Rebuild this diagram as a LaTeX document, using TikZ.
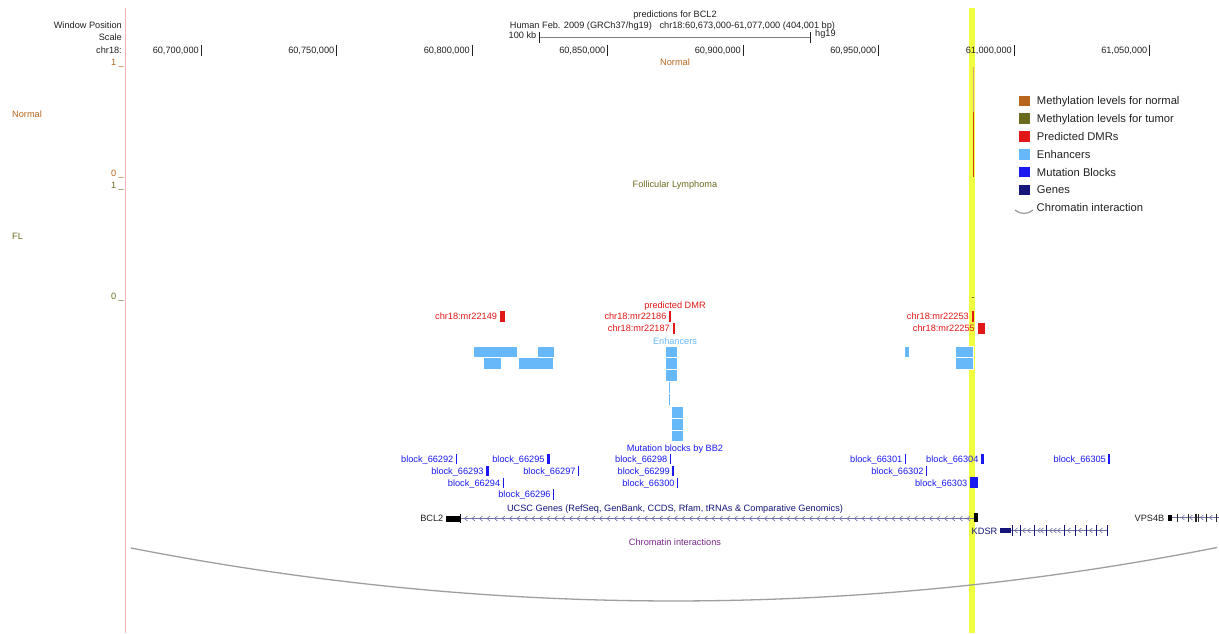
\documentclass[tikz,border=0pt]{standalone}
\usepackage{fontspec}
\setmainfont{Liberation Sans}
\usetikzlibrary{positioning}
\usepackage{xcolor}
\definecolor{normalc}{HTML}{B8651E}
\definecolor{tumorc}{HTML}{6B6B1E}
\definecolor{dmrc}{HTML}{E01818}
\definecolor{enhc}{HTML}{66B8F8}
\definecolor{blockc}{HTML}{1A1AF0}
\definecolor{genec}{HTML}{15157A}
\definecolor{intronc}{HTML}{7070A8}
\definecolor{chromc}{HTML}{7A2A88}
\definecolor{hilite}{HTML}{F0FF40}
\definecolor{axisc}{HTML}{F0B4B4}
\definecolor{inkc}{HTML}{222222}

\begin{document}
\begin{tikzpicture}[
  x=1pt, y=-1pt,
  lab/.style={font=\fontsize{9.2}{11}\selectfont, inner sep=0pt,
              text height=6.6pt, text depth=0pt, text=inkc},
  leglab/.style={lab, font=\fontsize{11.2}{13}\selectfont, text height=8pt},
  legsq/.style={inner sep=0pt, minimum size=10.5pt},
  dmrbar/.style={fill=dmrc, inner sep=0pt, minimum height=11pt},
  dmrlab/.style={lab, text=dmrc},
  blockbar/.style={fill=blockc, inner sep=0pt, minimum height=10.5pt, minimum width=1.5pt},
  blocklab/.style={lab, text=blockc},
  enh/.style={fill=enhc, draw=white, line width=0.5pt}
]
  % canvas, highlight band and left axis
  \fill[white] (0,0) rectangle (1219,633);
  \useasboundingbox (0,0) rectangle (1219,633);
  \fill[hilite] (968.5,8) rectangle (974.5,633);
  \draw[axisc, line width=1pt] (125,8) -- (125,633);

  % header
  \node[lab, anchor=east] (winpos) at (122,25) {Window Position};
  \node[lab, anchor=east] (scalelab) at (122,37) {Scale};
  \node[lab, anchor=east] (chrom) at (122,50) {chr18:};
  \node[lab] (title) at (675,14) {predictions for BCL2};
  \node[lab] (assembly) at (672.5,25) {Human Feb. 2009 (GRCh37/hg19)\ \ \ chr18:60,673,000-61,077,000 (404,001 bp)};

  \draw[gray, line width=1.5pt] (539,37.5) -- (810,37.5);
  \draw[inkc, line width=0.7pt] (539,32) -- (539,43);
  \draw[inkc, line width=0.7pt] (810,32) -- (810,43);
  \node[lab, anchor=east] (kb) at (536.5,35) {100 kb};
  \node[lab, anchor=west] (hg) at (815,33) {hg19};

  \foreach \tl [count=\i] in {{60,700,000},{60,750,000},{60,800,000},{60,850,000},
                              {60,900,000},{60,950,000},{61,000,000},{61,050,000}} {
    \draw[inkc, line width=0.8pt] ({201+135.5*(\i-1)},44.5) -- ({201+135.5*(\i-1)},56);
    \node[lab, anchor=east] (axis\i) at ({199+135.5*(\i-1)},50.5) {\tl};
  }

  % methylation tracks
  \node[lab, text=normalc] (normtitle) at (675,62) {Normal};
  \node[lab, text=normalc, anchor=east] (normhi) at (124,62) {1 \_};
  \node[lab, text=normalc, anchor=east] (normlo) at (124,173) {0 \_};
  \node[lab, text=normalc, anchor=west] (normname) at (12,114.5) {Normal};
  \draw[normalc!60, line width=0.9pt] (973.3,67) -- (973.3,112);
  \draw[normalc!60!red, line width=0.9pt] (973.3,112) -- (973.3,176.5);

  \node[lab, text=tumorc] (fltitle) at (675,184) {Follicular Lymphoma};
  \node[lab, text=tumorc, anchor=east] (flhi) at (124,185) {1 \_};
  \node[lab, text=tumorc, anchor=east] (fllo) at (124,296) {0 \_};
  \node[lab, text=tumorc, anchor=west] (flname) at (12,236) {FL};
  \draw[tumorc, line width=0.8pt] (971.5,297.5) -- (974,297.5);

  % predicted DMRs
  \node[dmrlab] (dmrtitle) at (675,305.5) {predicted DMR};
  \node[dmrbar, minimum width=4.7pt] (mr22149) at (502.3,316.2) {};
  \node[dmrbar, minimum width=2pt] (mr22186) at (670.3,316.5) {};
  \node[dmrbar, minimum width=2pt] (mr22187) at (673.7,328.3) {};
  \node[dmrbar, minimum width=2.6pt] (mr22253) at (973,316.2) {};
  \node[dmrbar, minimum width=7pt] (mr22255) at (981.2,328.2) {};
  \node[dmrlab, left=2.5pt of mr22149] (lab22149) {chr18:mr22149};
  \node[dmrlab, left=2.5pt of mr22186] (lab22186) {chr18:mr22186};
  \node[dmrlab, left=2.5pt of mr22187] (lab22187) {chr18:mr22187};
  \node[dmrlab, left=2.5pt of mr22253] (lab22253) {chr18:mr22253};
  \node[dmrlab, left=2.5pt of mr22255] (lab22255) {chr18:mr22255};

  % enhancers
  \node[lab, text=enhc] (enhtitle) at (675,341) {Enhancers};
  \filldraw[enh] (473.7,346) rectangle (517.3,357.5);
  \filldraw[enh] (537,346) rectangle (554.3,357.5);
  \filldraw[enh] (483.3,357.5) rectangle (501,369);
  \filldraw[enh] (518.3,357.5) rectangle (553,369);
  \filldraw[enh] (665.7,346) rectangle (677.7,357.5);
  \filldraw[enh] (665.7,357.5) rectangle (677.7,369.5);
  \filldraw[enh] (665.7,369.5) rectangle (677.7,381.3);
  \fill[enhc] (668.6,382.3) rectangle (670.4,393);
  \fill[enhc] (668.6,394.3) rectangle (670.4,405);
  \filldraw[enh] (671,406) rectangle (683.7,418);
  \filldraw[enh] (671,418) rectangle (683.7,430);
  \filldraw[enh] (671,430) rectangle (683.7,441.5);
  \filldraw[enh] (904,346) rectangle (909,357.5);
  \filldraw[enh] (955.3,346) rectangle (973.3,357.5);
  \filldraw[enh] (955.3,357.5) rectangle (973.3,369);

  % mutation blocks
  \node[blocklab] (blktitle) at (675,448) {Mutation blocks by BB2};
  \node[blockbar] (b66292) at (456.5,459) {};
  \node[blockbar, minimum width=3.5pt] (b66295) at (548.7,459) {};
  \node[blockbar] (b66298) at (670.5,459) {};
  \node[blockbar] (b66301) at (905.5,459) {};
  \node[blockbar, minimum width=3pt] (b66304) at (982.3,459) {};
  \node[blockbar] (b66305) at (1109,459) {};
  \node[blockbar, minimum width=3.5pt] (b66293) at (487.7,471) {};
  \node[blockbar] (b66297) at (578.7,471) {};
  \node[blockbar] (b66299) at (673,471) {};
  \node[blockbar] (b66302) at (926.7,471) {};
  \node[blockbar] (b66294) at (503.3,483) {};
  \node[blockbar] (b66300) at (677.7,483) {};
  \node[blockbar, minimum width=8pt] (b66303) at (973.7,482.7) {};
  \node[blockbar] (b66296) at (553.7,494.5) {};
  \foreach \b in {66292,66293,66294,66295,66296,66297,66298,66299,66300,66301,66302,66303,66304,66305}
    \node[blocklab, left=2pt of b\b] (lab\b) {block\_\b};

  % genes
  \node[lab, text=genec] (genetitle) at (675,508) {UCSC Genes (RefSeq, GenBank, CCDS, Rfam, tRNAs \& Comparative Genomics)};

  \node[lab, anchor=east] (bcl2) at (443.5,518.3) {BCL2};
  \draw[intronc, line width=0.6pt] (460,518.5) -- (975,518.5);
  \foreach \cx in {466,473.5,...,970}
    \draw[intronc, line width=0.6pt] (\cx+1.5,516) -- (\cx-1.5,518.5) -- (\cx+1.5,521);
  \fill[black] (445.7,515.5) rectangle (460.3,521.5);
  \draw[black, line width=0.8pt] (460.3,513.5) -- (460.3,523);
  \fill[black] (974,513.3) rectangle (977.5,521.5);

  \node[lab, text=genec, anchor=east] (kdsr) at (997.5,530.7) {KDSR};
  \draw[intronc, line width=0.6pt] (1011,530.5) -- (1107.7,530.5);
  \foreach \cx in {1016,1024,1029,1039,1042,1051,1055,1059,1069,1080,1091,1101}
    \draw[intronc, line width=0.6pt] (\cx+1.5,528) -- (\cx-1.5,530.5) -- (\cx+1.5,533);
  \fill[genec] (1000,528) rectangle (1011,533.3);
  \foreach \ex in {1012.3,1020,1034.3,1046,1064.3,1086,1096.7,1107.7}
    \draw[genec, line width=0.8pt] (\ex,525) -- (\ex,535.5);
  \draw[genec, line width=1.5pt] (1075.7,525) -- (1075.7,535.5);

  \node[lab, anchor=east] (vps4b) at (1164.5,517.7) {VPS4B};
  \draw[intronc, line width=0.6pt] (1172,517.5) -- (1219,517.5);
  \foreach \cx in {1183,1191,1202,1211}
    \draw[intronc, line width=0.6pt] (\cx+1.5,515) -- (\cx-1.5,517.5) -- (\cx+1.5,520);
  \fill[black] (1167.7,514.5) rectangle (1172.3,521);
  \foreach \ex in {1177.7,1188.3,1195,1196.8,1198.7,1206.7,1216.7}
    \draw[black!85, line width=0.8pt] (\ex,513.5) -- (\ex,521.5);

  % chromatin interactions
  \node[lab, text=chromc] (chromtitle) at (675,542.5) {Chromatin interactions};
  \coordinate (arcL) at (131,548);
  \coordinate (arcR) at (1217,547.5);
  \draw[gray!75, line width=1.3pt] (arcL) .. controls (493.7,618.7) and (856.3,618.7) .. (arcR);

  % legend
  \foreach \lc/\lt [count=\i] in {normalc/Methylation levels for normal, tumorc/Methylation levels for tumor,
                                  dmrc/Predicted DMRs, enhc/Enhancers, blockc/Mutation Blocks, genec/Genes} {
    \node[legsq, fill=\lc] (key\i) at (1024.3,{83.1+17.8*\i}) {};
    \node[leglab, right=7pt of key\i] (keylab\i) {\lt};
  }
  \coordinate (keyarcL) at (1015,210);
  \coordinate (keyarcR) at (1033,210);
  \draw[gray!80, line width=1.2pt] (keyarcL) .. controls (1020,214.5) and (1028,214.5) .. (keyarcR);
  \node[leglab, anchor=west] (keylab7) at (1036.5,207.7) {Chromatin interaction};
\end{tikzpicture}
\end{document}
